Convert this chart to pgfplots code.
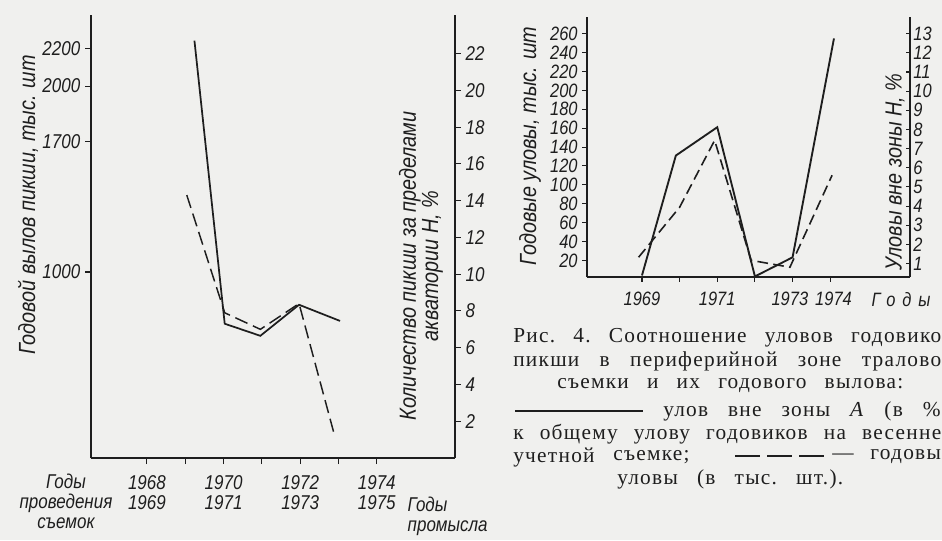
\documentclass[border=0pt]{standalone}
\usepackage{fontspec}
\usepackage{pgfplots}
\pgfplotsset{compat=1.18}
\newfontfamily\hand{Liberation Sans}[FakeStretch=0.85]
\newfontfamily\capfont{Liberation Serif}[LetterSpace=6]
\newcommand{\tickfont}{\hand\itshape\fontsize{15}{15}\selectfont}
\newcommand{\tickfontb}{\hand\itshape\fontsize{14.5}{15}\selectfont}
\newcommand{\labfont}{\hand\itshape\fontsize{17.5}{15}\selectfont}
\newcommand{\cf}{\capfont\fontsize{16}{17}\selectfont\frenchspacing}
\definecolor{bg}{HTML}{F0F0EE}
\definecolor{ink}{HTML}{1E1E1E}
\pgfplotsset{
  /pgf/number format/assume math mode=true,
  /pgf/number format/1000 sep={},
  base/.style={
    anchor=south west, scale only axis, clip=false,
    axis line style={line width=0.9pt, ink, -},
    tick align=outside, major tick length=4.5pt,
    tick style={line width=0.8pt, ink},
    ticklabel style={font=\tickfont, text=ink},
  },
}
\begin{document}
\begin{tikzpicture}
\useasboundingbox (0,0) rectangle (706.5pt,405pt);
\fill[bg] (0,0) rectangle (706.5pt,405pt);

% ---------- left chart, left scale ----------
\begin{axis}[base,
  at={(68.25pt,61.5pt)}, width=273pt, height=332.25pt,
  xmin=1966.54, xmax=1976.04, ymin=0, ymax=2382,
  axis x line*=bottom, axis y line*=left,
  xtick={1968,...,1974},
  xticklabels={{1968\\1969},,{1970\\1971},,{1972\\1973},,{1974\\1975}},
  xticklabel style={align=center, yshift=-5pt},
  ytick={1000,1700,2000,2200},
]
\addplot[ink, line width=1.3pt] coordinates {
 (1969.24,2244) (1970.03,722) (1970.96,657) (1971.97,824) (1973.04,737)};
\end{axis}
% ---------- left chart, right scale ----------
\begin{axis}[base,
  at={(68.25pt,61.5pt)}, width=273pt, height=332.25pt,
  xmin=1966.54, xmax=1976.04, ymin=0, ymax=24.1,
  axis x line=none, axis y line*=right, xtick=\empty,
  ytick={2,4,...,22},
]
\addplot[ink, line width=1.1pt, dash pattern=on 10pt off 4.5pt] coordinates {
 (1969.04,14.3) (1970.03,7.9) (1970.96,7.0) (1971.97,8.4) (1972.9,1.2)};
\end{axis}

% ---------- right chart, left scale ----------
\begin{axis}[base,
  at={(440.25pt,197.25pt)}, width=242.25pt, height=195pt,
  xmin=1967.54, xmax=1976.12, ymin=2.4, ymax=277.7,
  axis x line*=bottom, axis y line*=left,
  ticklabel style={font=\tickfontb},
  xtick={1969,...,1974},
  xticklabels={1969,,1971,,{1973\kern4pt},{\kern5pt1974}},
  xticklabel style={yshift=-4pt},
  ytick={20,40,...,260},
  major tick length=3.5pt,
]
\addplot[ink, line width=1.4pt] coordinates {
 (1969.0,4) (1969.9,131) (1971.0,161) (1972.0,3) (1973.0,23.2) (1974.1,255)};
\end{axis}
% ---------- right chart, right scale ----------
\begin{axis}[base,
  at={(440.25pt,197.25pt)}, width=242.25pt, height=195pt,
  xmin=1967.54, xmax=1976.12, ymin=0.30, ymax=13.87,
  axis x line=none, axis y line*=right, xtick=\empty,
  ticklabel style={font=\tickfontb},
  ytick={1,...,13}, tick align=inside, major tick length=3pt,
  yticklabel style={xshift=-1pt},
]
\addplot[ink, line width=1.2pt, dash pattern=on 8pt off 4pt] coordinates {
 (1968.91,1.33) (1970.0,3.94) (1970.93,7.43) (1971.9,1.17) (1972.93,0.81) (1974.05,5.61)};
\end{axis}

% ---------- texts, in image pixels ----------
\begin{scope}[x=0.75pt, y=-0.75pt, yshift=405pt]
\tikzset{every node/.style={text=ink}}
% left chart labels
\node[rotate=90, font=\labfont] at (28,205) {Годовой вылов пикши, тыс. шт};
\node[rotate=90, align=center, font=\labfont] at (421,266) {Количество пикши за пределами\\акватории H, \%};
\node[align=center, font=\tickfont] at (66,501) {Годы\\проведения\\съемок};
\node[align=left, font=\tickfont, anchor=west] at (403,516) {Годы\\промысла};
% right chart labels
\node[rotate=90, font=\labfont] at (530,146) {Годовые уловы, тыс. шт};
\node[rotate=90, font=\labfont] at (895,172) {Уловы вне зоны H, \%};
\node[font=\tickfontb\addfontfeature{LetterSpace=35}, anchor=west] at (867,300) {Годы};
% caption (the lines are cut at the page edge as in the reference)
\node[anchor=west, inner sep=0, font=\cf] at (513,338) {\makebox[321pt][s]{Рис. 4. Соотношение уловов годовико}};
\node[anchor=west, inner sep=0, font=\cf] at (513,361) {\makebox[321pt][s]{пикши в периферийной зоне тралово}};
\node[anchor=west, inner sep=0, font=\cf] at (557,386) {\makebox[259.5pt][s]{съемки и их годового вылова:}};
\draw[ink, line width=1.1pt] (515,411) -- (643,411);
\node[anchor=west, inner sep=0, font=\cf] at (663,411) {\makebox[208pt][s]{улов вне зоны \textit{A} (в \%}};
\node[anchor=west, inner sep=0, font=\cf] at (513,434) {\makebox[321pt][s]{к общему улову годовиков на весенне}};
\node[anchor=west, inner sep=0, font=\cf] at (513,457) {учетной};
\node[anchor=west, inner sep=0, font=\cf] at (613,457) {съемке;};
\draw[ink, line width=1pt, dash pattern=on 19pt off 5pt] (735,456) -- (828,456);
\node[anchor=west, inner sep=0, font=\cf] at (832,457) {\makebox[81.5pt][s]{— годовы}};
\node[anchor=west, inner sep=0, font=\cf] at (617,479) {\makebox[169.5pt][s]{уловы (в тыс. шт.).}};
\end{scope}
\end{tikzpicture}
\end{document}
